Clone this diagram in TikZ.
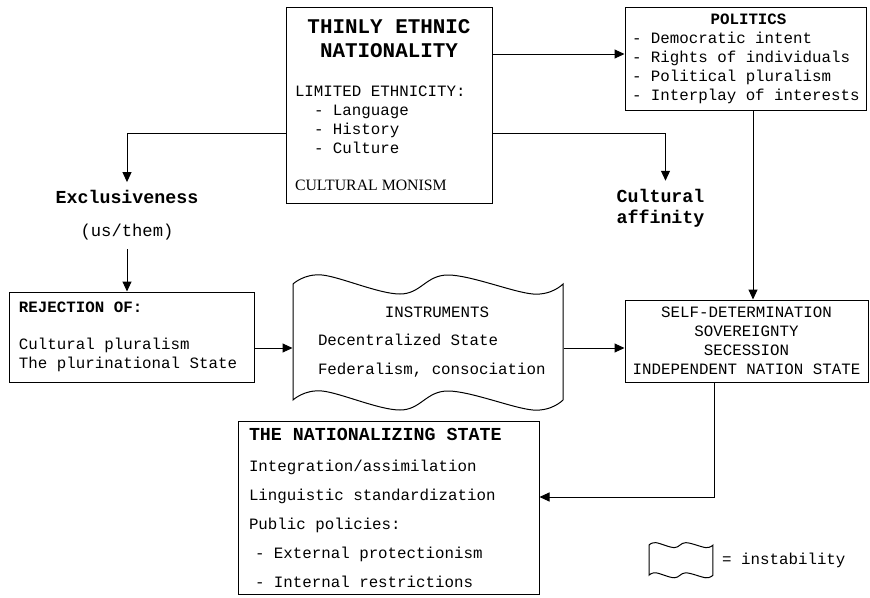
\documentclass[tikz,border=0pt]{standalone}
\usepackage{fontspec}
\setmainfont{Liberation Serif}
\setmonofont{Liberation Mono}
\usetikzlibrary{arrows.meta}
\newcommand{\titlefont}{\fontsize{20.9}{24}\selectfont\ttfamily\bfseries}
\newcommand{\headfont}{\fontsize{18.3}{20}\selectfont\ttfamily\bfseries}
\tikzset{
  box/.style={draw, line width=1pt, fill=white, align=left, inner ysep=0pt,
    execute at begin node={\spaceskip=0pt\xspaceskip=0pt\relax}},
  arr/.style={line width=1pt, -{Triangle[length=10pt,width=9pt]}},
  wavy/.pic={
    \draw[line width=1pt] plot[smooth, tension=0.6] coordinates {(0,0) (29,-9) (107,10) (155,-9) (240,10) (270,0)}
      -- plot[smooth, tension=0.6] coordinates {(270,116) (240,126) (155,107) (107,126) (29,107) (0,116)} -- cycle;
  }
}

\begin{document}
\begin{tikzpicture}[x=1pt, y=-1pt, every node/.style={font=\fontsize{15.8}{19}\selectfont\ttfamily}]
  \useasboundingbox (0,0) rectangle (870,597);

  % Thinly ethnic nationality
  \node[box, minimum width=206, minimum height=196, text width=188] (thin) at (389,105) {%
    \makebox[188pt]{\titlefont THINLY ETHNIC}\\[5pt]
    \makebox[188pt]{\titlefont NATIONALITY}\\[20pt]
    LIMITED ETHNICITY:\\
    \hspace*{19pt}- Language\\
    \hspace*{19pt}- History\\
    \hspace*{19pt}- Culture\\[18pt]
    {\rmfamily CULTURAL MONISM}};

  % Politics
  \node[box, minimum width=241, minimum height=103, text width=231, inner xsep=5] (pol) at (745.5,58.5) {%
    \makebox[231pt]{\hspace{6pt}\bfseries POLITICS}\\
    \hspace*{2pt}- Democratic intent\\
    \hspace*{2pt}- Rights of individuals\\
    \hspace*{2pt}- Political pluralism\\
    \hspace*{2pt}- Interplay of interests};

  % Two outcomes
  \node[font=\headfont, inner sep=0pt] (excl) at (127,197) {Exclusiveness};
  \node[font=\fontsize{17.2}{19}\selectfont\ttfamily, inner sep=0pt] (usthem) at (127,232) {(us/them)};
  \node[font=\headfont, align=left, inner sep=0pt] (aff) at (660.5,208) {Cultural\\[1pt]affinity};

  % Rejection of
  \node[box, minimum width=245, minimum height=90, text width=225, inner xsep=10] (rej) at (131.5,337) {%
    {\bfseries REJECTION OF:}\\[18pt]
    Cultural pluralism\\
    The plurinational State};

  % Instruments (instability)
  \pic at (293,284) {wavy};
  \node[box, draw=none, fill=none, minimum width=270, minimum height=116, text width=250, inner xsep=10] (instr) at (428,342) {%
    \makebox[250pt]{\hspace{18pt}INSTRUMENTS}\\[9.5pt]
    \hspace*{15pt}Decentralized State\\[9.5pt]
    \hspace*{15pt}Federalism, consociation};

  % Self-determination
  \node[box, align=center, minimum width=243, minimum height=82, inner xsep=4] (self) at (746.5,341) {%
    SELF-DETERMINATION\\
    SOVEREIGNTY\\
    SECESSION\\
    INDEPENDENT NATION STATE};

  % The nationalizing state
  \node[box, minimum width=301, minimum height=173, text width=279, inner xsep=11] (nat) at (388.5,507.5) {%
    {\headfont THE NATIONALIZING STATE}\\[12pt]
    Integration/assimilation\\[10pt]
    Linguistic standardization\\[10pt]
    Public policies:\\[10pt]
    \hspace*{6pt}- External protectionism\\[10pt]
    \hspace*{6pt}- Internal restrictions};

  % Legend
  \pic[xscale=0.237, yscale=0.26] at (649,545) {wavy};
  \node[anchor=west, inner sep=0pt] (inst) at (722,560) {= instability};

  % Connectors
  \coordinate (row1) at (0,54);
  \coordinate (row2) at (0,133);
  \coordinate (row3) at (0,348);
  \coordinate (col1) at (753,0);
  \coordinate (bend) at (714,497);
  \draw[arr] (thin.east |- row1) -- (pol.west |- row1);
  \draw[arr, shorten >=8pt] (thin.west |- row2) -| (excl.north);
  \draw[arr, shorten >=8pt] (thin.east |- row2) -| ([xshift=5pt]aff.north);
  \draw[arr, shorten <=9pt] (usthem.south) -- (usthem.south |- rej.north);
  \draw[arr] (rej.east |- row3) -- (instr.west |- row3);
  \draw[arr] (instr.east |- row3) -- (self.west |- row3);
  \draw[arr] (pol.south -| col1) -- (self.north -| col1);
  \draw[arr] (self.south -| bend) |- (nat.east |- bend);
\end{tikzpicture}
\end{document}
